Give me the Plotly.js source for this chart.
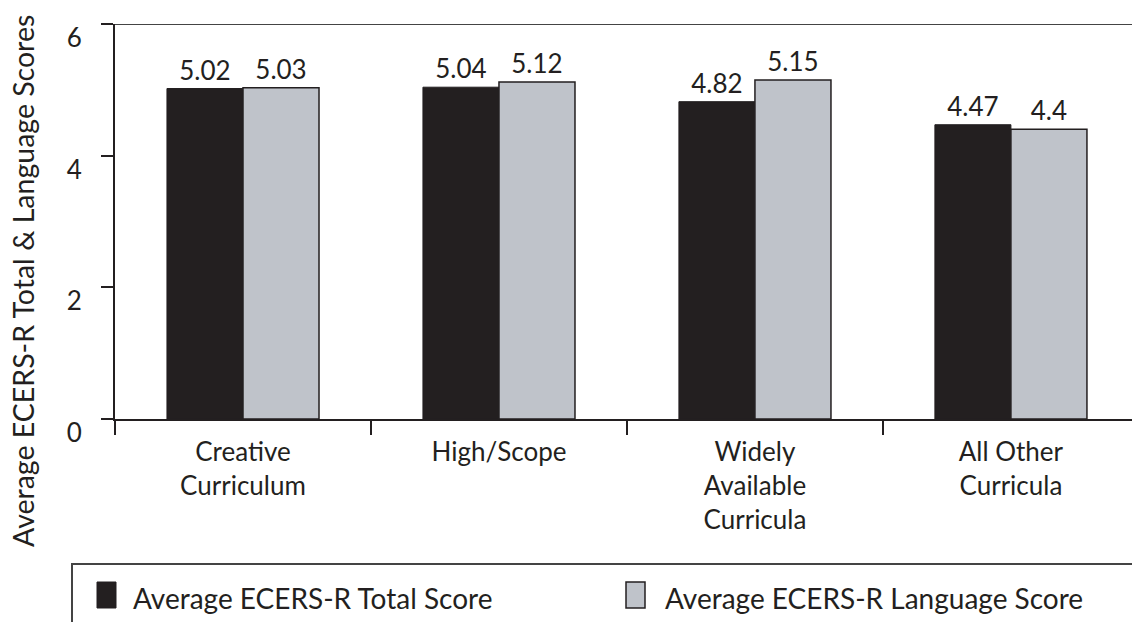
<!DOCTYPE html>
<html>
<head>
<meta charset="utf-8">
<script src="https://cdn.plot.ly/plotly-3.0.1.min.js"></script>
<style>html,body{margin:0;padding:0;background:#fff;}#chart{width:1132px;height:622px;}</style>
</head>
<body>
<div id="chart"></div>
<script>
// ---- data ----
const categories = ["Creative<br>Curriculum", "High/Scope", "Widely<br>Available<br>Curricula", "All Other<br>Curricula"];
const totalScores = [5.02, 5.04, 4.82, 4.47];
const languageScores = [5.03, 5.12, 5.15, 4.4];
const seriesNames = ["Average ECERS-R Total Score", "Average ECERS-R Language Score"];
const yTickVals = [0, 2, 4, 6];
const yTitle = "Average ECERS-R Total & Language Scores";

const INK = "#231f20";
const GREY = "#bfc3ca";
const FONT = "Lato, 'Open Sans', sans-serif";

// plot area in pixels (for converting legend positions to paper coords)
const L = 115, R = 1132, T = 24, B = 419;
const px = x => (x - L) / (R - L);
const py = y => (B - y) / (B - T);

const traces = [
  {
    type: "bar", name: seriesNames[0], x: categories, y: totalScores,
    marker: {color: INK, line: {color: INK, width: 1}},
    text: totalScores.map(String), textposition: "outside", constraintext: "none",
    textfont: {family: FONT, size: 26, color: INK}, cliponaxis: false, showlegend: false
  },
  {
    type: "bar", name: seriesNames[1], x: categories, y: languageScores,
    marker: {color: GREY, line: {color: INK, width: 1.5}},
    text: languageScores.map(String), textposition: "outside", constraintext: "none",
    textfont: {family: FONT, size: 26, color: INK}, cliponaxis: false, showlegend: false
  }
];

const layout = {
  width: 1132, height: 622,
  margin: {l: L, r: 1132 - R, t: T, b: 622 - B, pad: 0},
  paper_bgcolor: "#fff", plot_bgcolor: "#fff",
  font: {family: FONT, color: INK, size: 26},
  barmode: "group", bargap: 0.406, bargroupgap: 0,
  showlegend: false,
  xaxis: {
    type: "category", range: [-0.5, 3.473],
    showline: true, linecolor: INK, linewidth: 2,
    ticks: "outside", tickson: "boundaries", ticklen: 14, tickwidth: 2, tickcolor: INK,
    tickfont: {family: FONT, size: 26, color: INK}, ticklabelstandoff: 9,
    showgrid: false, zeroline: false, automargin: false, fixedrange: true
  },
  yaxis: {
    range: [0, 6], tickvals: yTickVals, ticktext: yTickVals.map(String),
    showline: true, linecolor: INK, linewidth: 2,
    ticks: "outside", ticklen: 12, tickwidth: 2, tickcolor: INK,
    tickfont: {family: FONT, size: 26, color: INK},
    ticklabelstandoff: 14, ticklabelshift: 14,
    showgrid: false, zeroline: false, automargin: false, fixedrange: true
  },
  shapes: [
    // top frame line at y = 6
    {type: "line", xref: "paper", yref: "y", x0: 0, x1: 1, y0: 6, y1: 6, line: {color: "#444", width: 2}},
    // legend box (extends past the bottom/right edge like the reference)
    {type: "rect", xref: "paper", yref: "paper", x0: px(72), x1: px(1160), y0: py(564), y1: py(650),
     line: {color: "#444", width: 2}, fillcolor: "rgba(0,0,0,0)"},
    // legend swatches
    {type: "rect", xref: "paper", yref: "paper", x0: px(97), x1: px(116), y0: py(582), y1: py(608),
     line: {color: INK, width: 1}, fillcolor: INK},
    {type: "rect", xref: "paper", yref: "paper", x0: px(626), x1: px(645), y0: py(582), y1: py(608),
     line: {color: INK, width: 1.5}, fillcolor: GREY}
  ],
  annotations: [
    {xref: "paper", yref: "paper", x: px(23), y: py(281), text: yTitle, textangle: -90,
     showarrow: false, xanchor: "center", yanchor: "middle", font: {family: FONT, size: 28.5, color: INK}},
    {xref: "paper", yref: "paper", x: px(131), y: py(598), text: seriesNames[0],
     showarrow: false, xanchor: "left", yanchor: "middle", font: {family: FONT, size: 28, color: INK}},
    {xref: "paper", yref: "paper", x: px(663), y: py(598), text: seriesNames[1],
     showarrow: false, xanchor: "left", yanchor: "middle", font: {family: FONT, size: 28, color: INK}}
  ]
};

Plotly.newPlot("chart", traces, layout, {displayModeBar: false, staticPlot: true});
</script>
</body>
</html>
